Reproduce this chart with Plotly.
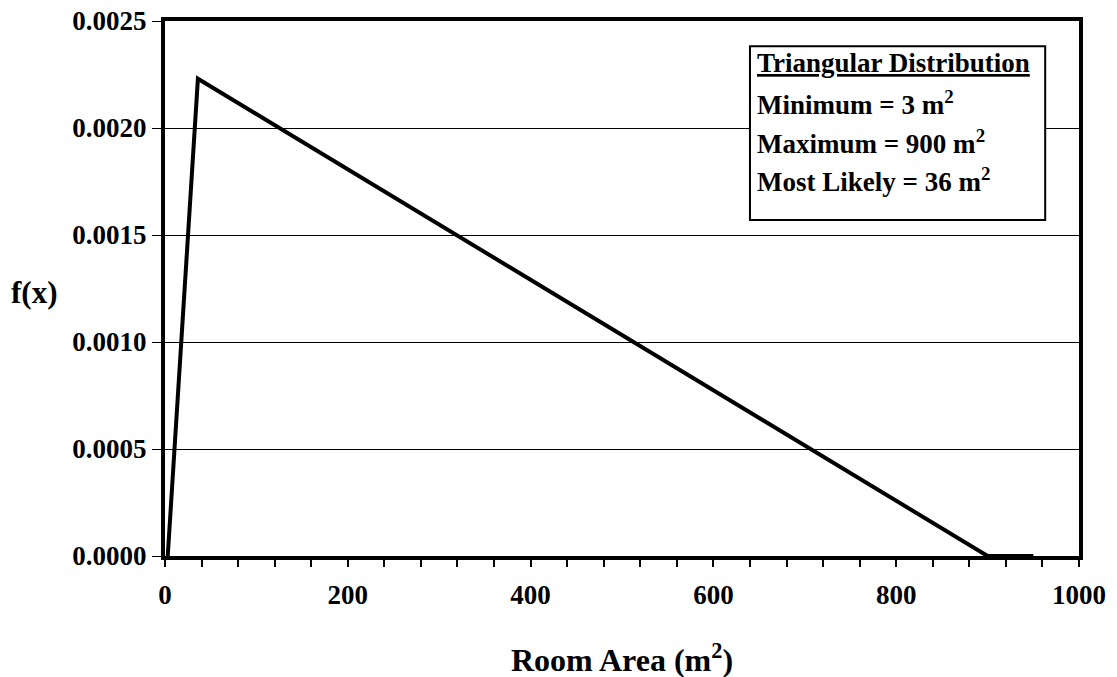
import plotly.graph_objects as go

# Data
area = [3, 36, 900, 950]
density = [0.0, 0.00223, 0.0, 0.0]
x_ticks = [0, 200, 400, 600, 800, 1000]
y_ticks = [0.0, 0.0005, 0.0010, 0.0015, 0.0020, 0.0025]
box_lines = ["<u>Triangular Distribution</u>",
             "Minimum = 3 m<sup>2</sup>",
             "Maximum = 900 m<sup>2</sup>",
             "Most Likely = 36 m<sup>2</sup>"]

FONT = "Liberation Serif"

fig = go.Figure()
fig.add_trace(go.Scatter(x=area, y=density, mode="lines",
                         line=dict(color="black", width=4), showlegend=False))

fig.update_layout(
    width=1117, height=677,
    margin=dict(l=165, r=38, t=21, b=121, autoexpand=False),
    paper_bgcolor="white", plot_bgcolor="white",
    font=dict(family=FONT, color="black", size=27, weight="bold"),
)
fig.update_xaxes(
    range=[0, 1000], tickvals=x_ticks, ticktext=[str(v) for v in x_ticks],
    ticks="outside", ticklen=7, tickwidth=2, tickcolor="black",
    minor=dict(dtick=40, ticks="outside", ticklen=7, tickwidth=2, tickcolor="black", showgrid=False),
    showgrid=False, zeroline=False, ticklabelstandoff=5, automargin=False,
    showline=True, linewidth=4, linecolor="black", mirror=True,
    tickfont=dict(family=FONT, size=27, weight="bold"),
)
fig.update_yaxes(
    range=[0, 0.0025], tickvals=y_ticks, ticktext=[f"{v:.4f}" for v in y_ticks],
    ticks="outside", ticklen=9, tickwidth=1, tickcolor="black", automargin=False,
    showgrid=True, gridcolor="black", gridwidth=1, zeroline=False,
    showline=True, linewidth=4, linecolor="black", mirror=True,
    tickfont=dict(family=FONT, size=27, weight="bold"),
)

# axis titles
fig.add_annotation(text="Room Area (m<sup>2</sup>)", xref="paper", yref="paper",
                   x=0.5, y=-0.191, xanchor="center", yanchor="middle", showarrow=False,
                   font=dict(family=FONT, size=32, weight="bold"))
fig.add_annotation(text="f(x)", xref="paper", yref="paper",
                   x=-0.143, y=0.492, xanchor="center", yanchor="middle", showarrow=False,
                   font=dict(family=FONT, size=31, weight="bold"))

# info box
fig.add_shape(type="rect", xref="paper", yref="paper", x0=0.640, x1=0.963, y0=0.628, y1=0.953,
              line=dict(color="black", width=2), fillcolor="white", layer="above")
ys = [0.922, 0.846, 0.774, 0.703]
for t, yy in zip(box_lines, ys):
    fig.add_annotation(text=t, xref="paper", yref="paper", x=0.646, y=yy,
                       xanchor="left", yanchor="middle", showarrow=False,
                       font=dict(family=FONT, size=27, weight="bold"))

fig.write_html("out.html")
